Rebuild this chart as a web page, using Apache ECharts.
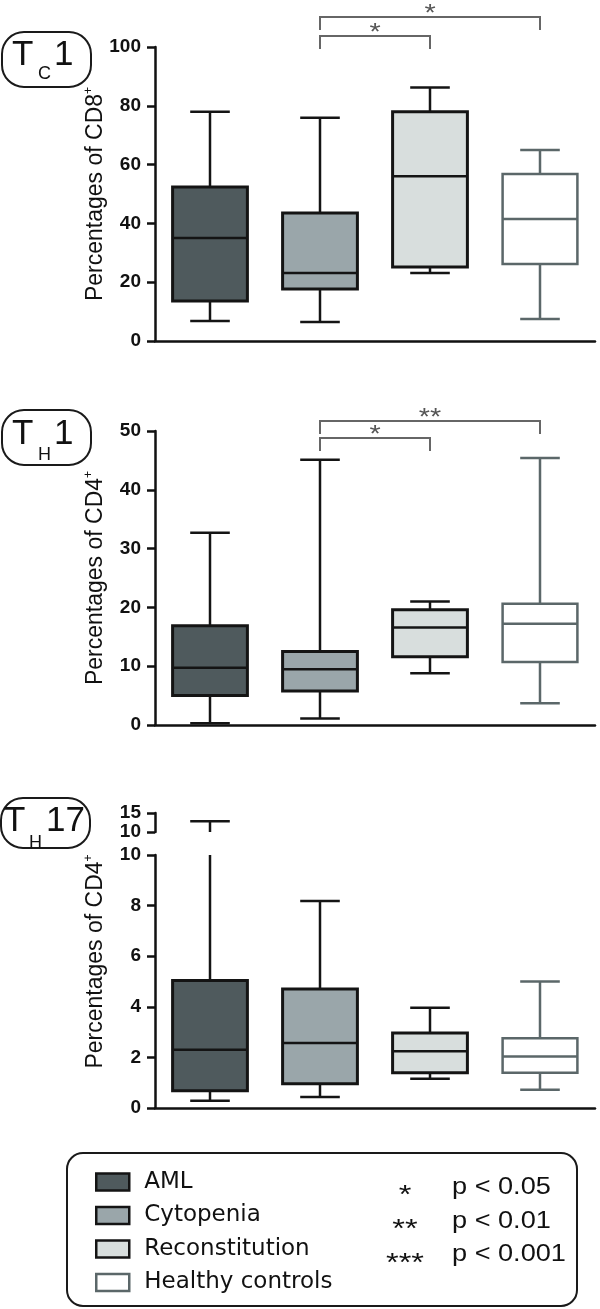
<!DOCTYPE html>
<html>
<head>
<meta charset="utf-8">
<script src="https://cdn.jsdelivr.net/npm/echarts@6/dist/echarts.min.js"></script>
<style>
  html, body { margin: 0; padding: 0; background: #fff; }
  #chart { width: 600px; height: 1309px; }
</style>
</head>
<body>
<div id="chart"></div>
<script>
const groups = ['AML', 'Cytopenia', 'Reconstitution', 'Healthy controls'];

// [low, q1, median, q3, high] per group
const tc1 = [
  [6.8, 13.6, 35.0, 52.4, 78.0],
  [6.5, 17.7, 23.1, 43.5, 75.9],
  [23.1, 25.2, 56.0, 78.0, 86.2],
  [7.5, 26.2, 41.5, 56.8, 65.0]
];
const th1 = [
  [0.3, 5.0, 9.75, 16.9, 32.7],
  [1.1, 5.8, 9.5, 12.5, 45.1],
  [8.8, 11.6, 16.6, 19.6, 21.0],
  [3.7, 10.7, 17.2, 20.6, 45.4]
];
const th17 = [
  [0.29, 0.68, 2.3, 5.04, 12.8],
  [0.43, 0.96, 2.57, 4.7, 8.18],
  [1.16, 1.39, 2.24, 2.96, 3.96],
  [0.72, 1.39, 2.04, 2.76, 5.0]
];

// [from group, to group, bracket height, stars]
const tc1Brackets = [[1, 2, 103.7, '*'], [1, 3, 110.2, '*']];
const th1Brackets = [[1, 2, 48.8, '*'], [1, 3, 51.7, '**']];

const pLabels = ['p < 0.05', 'p < 0.01', 'p < 0.001'];
const pStars = ['*', '**', '***'];

const FONT = '"Liberation Sans", Arial, Helvetica, sans-serif';

const groupStyle = [
  { fill: '#4f5a5d', stroke: '#141414', box: 3, line: 2.5 },
  { fill: '#9aa6aa', stroke: '#141414', box: 3, line: 2.5 },
  { fill: '#d8dedd', stroke: '#141414', box: 3, line: 2.5 },
  { fill: '#ffffff', stroke: '#5b6769', box: 2.5, line: 2.5 }
];

const chart = echarts.init(document.getElementById('chart'), null, { renderer: 'canvas' });

// box + whiskers, clipped to the grid so the broken axis works
function boxRenderer(st) {
  return function (params, api) {
    const cs = params.coordSys;
    const top = cs.y, bot = cs.y + cs.height;
    const clamp = v => Math.max(top, Math.min(bot, v));
    const inside = v => v >= top - 0.5 && v <= bot + 0.5;
    const cat = api.value(0);
    const cx = api.coord([cat, 0])[0];
    const band = api.size([1, 0])[0];
    const hw = band * 0.34, cw = band * 0.18;
    const y = k => api.coord([cat, api.value(k)])[1];
    const lo = y(1), q1 = y(2), med = y(3), q3 = y(4), hi = y(5);
    const lineStyle = { stroke: st.stroke, lineWidth: st.line };
    const kids = [];
    const seg = (a, b) => {
      const ya = clamp(a), yb = clamp(b);
      if (Math.abs(ya - yb) > 0.5) {
        kids.push({ type: 'line', shape: { x1: cx, y1: ya, x2: cx, y2: yb }, style: lineStyle });
      }
    };
    seg(q3, hi);
    seg(q1, lo);
    if (inside(hi)) kids.push({ type: 'line', shape: { x1: cx - cw, y1: hi, x2: cx + cw, y2: hi }, style: lineStyle });
    if (inside(lo)) kids.push({ type: 'line', shape: { x1: cx - cw, y1: lo, x2: cx + cw, y2: lo }, style: lineStyle });
    const bt = clamp(q3), bb = clamp(q1);
    if (bb - bt > 0.5) {
      kids.push({
        type: 'rect',
        shape: { x: cx - hw, y: bt, width: hw * 2, height: bb - bt },
        style: { fill: st.fill, stroke: st.stroke, lineWidth: st.box }
      });
    }
    if (inside(med)) kids.push({ type: 'line', shape: { x1: cx - hw, y1: med, x2: cx + hw, y2: med }, style: lineStyle });
    return { type: 'group', children: kids };
  };
}

function bracketRenderer(params, api) {
  const a = api.coord([api.value(0), api.value(2)]);
  const b = api.coord([api.value(1), api.value(2)]);
  const yb = a[1], drop = 13;
  return {
    type: 'group',
    children: [
      {
        type: 'polyline',
        shape: { points: [[a[0], yb + drop], [a[0], yb], [b[0], yb], [b[0], yb + drop]] },
        style: { stroke: '#666', lineWidth: 2, fill: null }
      },
      {
        type: 'text',
        x: (a[0] + b[0]) / 2, y: yb - 3, scaleX: 1.2,
        style: {
          text: api.value(3), fill: '#555', font: '24px ' + FONT,
          textAlign: 'center', textVerticalAlign: 'middle', align: 'center', verticalAlign: 'middle'
        }
      }
    ]
  };
}

const axisLine = { lineStyle: { color: '#111', width: 2.5 } };
const axisTick = { lineStyle: { color: '#111', width: 2.5 }, length: 8 };
const tickLabel = { color: '#111', fontFamily: FONT, fontWeight: 'bold', fontSize: 19, margin: 14 };
const nameStyle = {
  color: '#111', fontFamily: FONT, fontSize: 23, lineHeight: 26,
  rich: { sup: { fontSize: 12, fontFamily: FONT, color: '#111', verticalAlign: 'top', lineHeight: 26 } }
};
const nameBase = { nameLocation: 'middle', nameGap: 46, nameMoveOverlap: false };

const grids = [
  { left: 155, top: 47, width: 440, height: 294 },
  { left: 155, top: 431, width: 440, height: 294 },
  { left: 155, top: 813, width: 440, height: 19 },
  { left: 155, top: 855, width: 440, height: 253 }
];

const xAxes = grids.map((g, i) => ({
  type: 'category', gridIndex: i, data: groups, show: i !== 2,
  axisLine: axisLine,
  axisTick: { alignWithLabel: true, length: 9, lineStyle: { color: '#111', width: 2.5 } },
  axisLabel: { show: false },
  splitLine: { show: false }
}));

const yBase = { type: 'value', axisLine: Object.assign({ show: true }, axisLine), axisTick: Object.assign({ show: true }, axisTick), axisLabel: tickLabel, splitLine: { show: false } };
const yAxes = [
  Object.assign({}, yBase, nameBase, { gridIndex: 0, min: 0, max: 100, interval: 20, name: 'Percentages of CD8{sup|+}', nameTextStyle: nameStyle }),
  Object.assign({}, yBase, nameBase, { gridIndex: 1, min: 0, max: 50, interval: 10, name: 'Percentages of CD4{sup|+}', nameTextStyle: nameStyle }),
  Object.assign({}, yBase, { gridIndex: 2, min: 10, max: 15, interval: 5 }),
  Object.assign({}, yBase, nameBase, { gridIndex: 3, min: 0, max: 10, interval: 2, name: 'Percentages of CD4{sup|+}', nameTextStyle: Object.assign({}, nameStyle, { padding: [0, 0, 0, 40] }) })
];

const panels = [
  { data: tc1, grid: 0 },
  { data: th1, grid: 1 },
  { data: th17, grid: 2 },
  { data: th17, grid: 3 }
];

const series = [];
panels.forEach(p => {
  groups.forEach((name, gi) => {
    series.push({
      type: 'custom', name: name, xAxisIndex: p.grid, yAxisIndex: p.grid,
      itemStyle: { color: groupStyle[gi].fill, borderColor: groupStyle[gi].stroke },
      renderItem: boxRenderer(groupStyle[gi]),
      data: [[gi].concat(p.data[gi])],
      silent: true, animation: false
    });
  });
});
[[tc1Brackets, 0], [th1Brackets, 1]].forEach(([br, gi]) => {
  series.push({
    type: 'custom', xAxisIndex: gi, yAxisIndex: gi, clip: false,
    renderItem: bracketRenderer, data: br, silent: true, animation: false
  });
});

function panelTag(box, parts) {
  return {
    type: 'group',
    children: [{
      type: 'rect', shape: { x: box[0], y: box[1], width: box[2], height: box[3], r: 22 },
      style: { fill: 'none', stroke: '#1a1a1a', lineWidth: 2 }
    }].concat(parts.map(t => ({
      type: 'text', x: t[1], y: t[2],
      style: { text: t[0], font: t[3] + 'px ' + FONT, fill: '#111', textVerticalAlign: 'middle', verticalAlign: 'middle' }
    })))
  };
}

const graphics = [
  panelTag([2, 32, 89, 55], [['T', 12, 55, 35], ['C', 38, 74, 18], ['1', 54, 55, 35]]),
  panelTag([2, 410, 89, 55], [['T', 12, 434, 35], ['H', 38, 455, 18], ['1', 54, 434, 35]]),
  panelTag([1, 798, 89, 50], [['T', 4, 821, 35], ['H', 29, 843, 18], ['17', 46, 821, 35]]),
  {
    type: 'rect', shape: { x: 67, y: 1153, width: 510, height: 153, r: 16 },
    style: { fill: 'none', stroke: '#1a1a1a', lineWidth: 2 }
  }
];
pLabels.forEach((t, i) => {
  graphics.push({
    type: 'text', x: 452, y: 1188 + i * 33.5, scaleX: 1.18,
    style: { text: t, font: '23px ' + FONT, fill: '#111', textVerticalAlign: 'middle', verticalAlign: 'middle' }
  });
  graphics.push({
    type: 'text', x: 405, y: 1196 + i * 34, scaleX: 1.3,
    style: { text: pStars[i], font: '25px ' + FONT, fill: '#111', textAlign: 'center', align: 'center', textVerticalAlign: 'middle', verticalAlign: 'middle' }
  });
});

chart.setOption({
  backgroundColor: '#fff',
  animation: false,
  textStyle: { fontFamily: FONT },
  grid: grids,
  xAxis: xAxes,
  yAxis: yAxes,
  series: series,
  legend: {
    orient: 'vertical', left: 95, top: 1170.5, padding: 0, height: 200,
    itemWidth: 33, itemHeight: 17, itemGap: 10.5,
    selectedMode: false,
    textStyle: { fontSize: 23, color: '#111', fontFamily: '"DejaVu Sans", sans-serif', padding: [0, 0, 0, 10] },
    data: groups.map((g, i) => ({
      name: g, icon: 'rect',
      itemStyle: { color: groupStyle[i].fill, borderColor: groupStyle[i].stroke, borderWidth: 2.5 }
    }))
  },
  graphic: graphics
});
</script>
</body>
</html>
